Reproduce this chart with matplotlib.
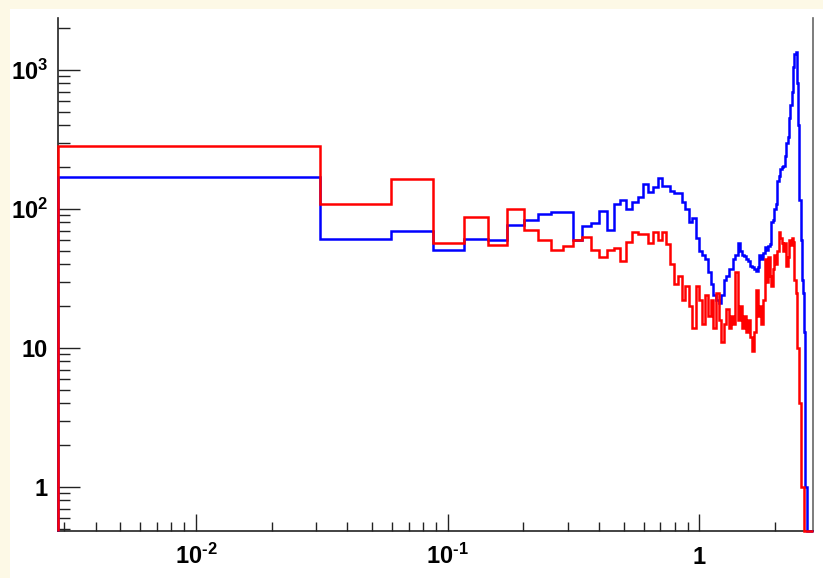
import numpy as np
import matplotlib
matplotlib.use("Agg")
import matplotlib.pyplot as plt
from matplotlib.patches import Rectangle
from matplotlib.ticker import FixedLocator, LogLocator, NullFormatter, FixedFormatter

plt.rcParams['font.family'] = 'Liberation Sans'
plt.rcParams['mathtext.fontset'] = 'custom'
plt.rcParams['mathtext.rm'] = 'Liberation Sans:bold'
plt.rcParams['mathtext.bf'] = 'Liberation Sans:bold'
plt.rcParams['mathtext.it'] = 'Liberation Sans:bold'

# histogram binning: 100 equal bins
x_lo, x_hi = 0.00282, 2.835
n_bins = 100
y_lo, y_hi = 0.485, 2355

blue_counts = [
    171, 61, 69, 51, 61, 60, 77, 83, 92, 95,
    95, 60, 75, 79, 96, 71, 109, 117, 100, 113,
    122, 151, 132, 145, 166, 146, 146, 134, 131, 131,
    113, 100, 80, 86, 62, 50, 47, 44, 35, 29,
    24, 22, 21, 24, 31, 33, 37, 37, 44, 47,
    57, 50, 47, 46, 44, 42, 39, 38, 37, 36,
    38, 47, 44, 48, 53, 51, 54, 56, 80, 84,
    100, 108, 160, 172, 195, 200, 205, 240, 300, 330,
    450, 560, 700, 1050, 1300, 1350, 800, 400, 117, 60,
    31, 25, 13, 1, 0, 0, 0, 0, 0, 0,
]

red_counts = [
    284, 109, 164, 57, 87, 55, 100, 71, 60, 51,
    54, 60, 63, 51, 45, 51, 52, 42, 58, 68,
    66, 66, 57, 68, 60, 68, 56, 40, 29, 33,
    22, 28, 20, 14, 28, 22, 15, 24, 17, 22,
    14, 25, 16, 11, 15, 19, 14, 17, 15, 35,
    16, 20, 14, 17, 13, 16, 12, 9.5, 13, 26,
    17, 20, 15, 22, 44, 30, 45, 33, 28, 37,
    47, 40, 50, 68, 62, 57, 50, 57, 39, 45,
    60, 55, 62, 58, 31, 25, 10, 10, 4, 1,
    1, 1, 0, 0, 0, 0, 0, 0, 0, 0,
]

y_ticks = [1, 10, 100, 1000]
y_tick_labels = ['1', '10', '10$^{2}$', '10$^{3}$']
x_ticks = [0.01, 0.1, 1]
x_tick_labels = ['10$^{\\text{-}2}$', '10$^{\\text{-}1}$', '1']

edges = np.linspace(x_lo, x_hi, n_bins + 1)

cream = '#fdf9e6'
fig = plt.figure(figsize=(8.23, 5.78), dpi=100, facecolor='white')
fig.patches.append(Rectangle((0, 0), 10 / 823, 1, transform=fig.transFigure,
                             facecolor=cream, edgecolor='none', zorder=-1))
fig.patches.append(Rectangle((0, 1 - 9 / 578), 1, 9 / 578, transform=fig.transFigure,
                             facecolor=cream, edgecolor='none', zorder=-1))

ax = fig.add_axes([57.5 / 823, 1 - 530.7 / 578, (813.3 - 57.5) / 823, (530.7 - 18.3) / 578])
ax.set_xscale('log')
ax.set_yscale('log')

# empty bins sit on the bottom of the frame, as ROOT draws them
ax.stairs(np.maximum(blue_counts, y_lo), edges, baseline=y_lo, color='#0000ff',
          lw=1.8, clip_on=False, zorder=3)
ax.stairs(np.maximum(red_counts, y_lo), edges, baseline=y_lo, color='#ff0000',
          lw=1.8, clip_on=False, zorder=4)

ax.set_xlim(x_lo, x_hi)
ax.set_ylim(y_lo, y_hi)

ax.xaxis.set_major_locator(FixedLocator(x_ticks))
ax.xaxis.set_major_formatter(FixedFormatter(x_tick_labels))
ax.xaxis.set_minor_locator(LogLocator(base=10, subs=np.arange(2, 10)))
ax.xaxis.set_minor_formatter(NullFormatter())
ax.yaxis.set_major_locator(FixedLocator(y_ticks))
ax.yaxis.set_major_formatter(FixedFormatter(y_tick_labels))
ax.yaxis.set_minor_locator(LogLocator(base=10, subs=np.arange(2, 10)))
ax.yaxis.set_minor_formatter(NullFormatter())

ax.tick_params(axis='both', which='both', direction='in', color='#222222', width=1.0,
               top=False, right=False, labelsize=17)
ax.tick_params(axis='y', which='major', length=16, pad=7)
ax.tick_params(axis='y', which='minor', length=8.5)
ax.tick_params(axis='x', which='major', length=12, pad=24)
ax.tick_params(axis='x', which='minor', length=6.5)

for t in ax.get_xticklabels() + ax.get_yticklabels():
    t.set_fontweight('bold')
for t in ax.get_xticklabels():
    t.set_verticalalignment('baseline')

ax.spines['top'].set_visible(False)
for side in ('left', 'bottom'):
    ax.spines[side].set_color('#222222')
    ax.spines[side].set_linewidth(1.2)
ax.spines['right'].set_color('#666666')
ax.spines['right'].set_linewidth(1.2)

fig.savefig('out.png', dpi=100, facecolor=fig.get_facecolor())
